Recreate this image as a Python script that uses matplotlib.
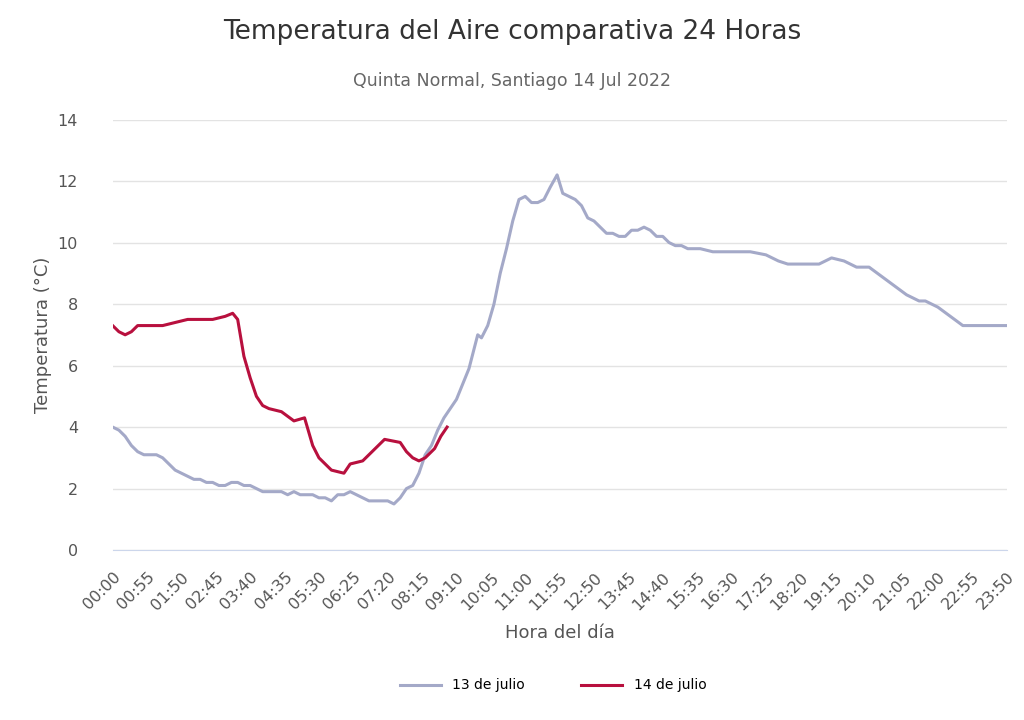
import matplotlib
matplotlib.use("Agg")
import matplotlib.pyplot as plt

def hm(s):
    h, m = s.split(":")
    return int(h) * 60 + int(m)

t13 = ["00:00","00:10","00:20","00:30","00:40","00:50","01:00","01:10","01:20","01:30","01:40","01:50",
       "02:00","02:10","02:20","02:30","02:40","02:50","03:00","03:10","03:20","03:30","03:40","03:50",
       "04:00","04:10","04:20","04:30","04:40","04:50","05:00","05:10","05:20","05:30","05:40","05:50",
       "06:00","06:10","06:20","06:30","06:40","06:50","07:00","07:10","07:20","07:30","07:40","07:50",
       "08:00","08:10","08:20","08:30","08:40","08:50","09:00","09:10","09:20","09:30","09:44","09:50",
       "10:00","10:10","10:20","10:30","10:40","10:50","11:00","11:10","11:20","11:30","11:40","11:51",
       "12:00","12:10","12:20","12:30","12:40","12:50","13:00","13:10","13:20","13:30","13:40","13:50",
       "14:00","14:10","14:20","14:30","14:40","14:50","15:00","15:10","15:20","15:40","16:00","16:30",
       "17:00","17:25","17:45","18:00","18:20","18:50","19:10","19:30","19:50","20:10","20:30","20:50",
       "21:10","21:30","21:40","22:00","22:20","22:40","23:00","23:20","23:50"]
v13 = [4.0,3.9,3.7,3.4,3.2,3.1,3.1,3.1,3.0,2.8,2.6,2.5,
       2.4,2.3,2.3,2.2,2.2,2.1,2.1,2.2,2.2,2.1,2.1,2.0,
       1.9,1.9,1.9,1.9,1.8,1.9,1.8,1.8,1.8,1.7,1.7,1.6,
       1.8,1.8,1.9,1.8,1.7,1.6,1.6,1.6,1.6,1.5,1.7,2.0,
       2.1,2.5,3.1,3.4,3.9,4.3,4.6,4.9,5.4,5.9,7.0,6.9,
       7.3,8.0,9.0,9.8,10.7,11.4,11.5,11.3,11.3,11.4,11.8,12.2,
       11.6,11.5,11.4,11.2,10.8,10.7,10.5,10.3,10.3,10.2,10.2,10.4,
       10.4,10.5,10.4,10.2,10.2,10.0,9.9,9.9,9.8,9.8,9.7,9.7,
       9.7,9.6,9.4,9.3,9.3,9.3,9.5,9.4,9.2,9.2,8.9,8.6,
       8.3,8.1,8.1,7.9,7.6,7.3,7.3,7.3,7.3]

t14 = ["00:00","00:10","00:20","00:30","00:40","01:00","01:20","01:40","02:00","02:20","02:40","03:00",
       "03:12","03:20","03:30","03:40","03:50","04:00","04:10","04:30","04:50","05:07","05:20","05:30",
       "05:40","05:50","06:10","06:20","06:40","07:00","07:15","07:40","07:50","08:00","08:10","08:20",
       "08:35","08:45","08:55"]
v14 = [7.3,7.1,7.0,7.1,7.3,7.3,7.3,7.4,7.5,7.5,7.5,7.6,
       7.7,7.5,6.3,5.6,5.0,4.7,4.6,4.5,4.2,4.3,3.4,3.0,
       2.8,2.6,2.5,2.8,2.9,3.3,3.6,3.5,3.2,3.0,2.9,3.0,
       3.3,3.7,4.0]

tick_labels = ["00:00","00:55","01:50","02:45","03:40","04:35","05:30","06:25","07:20","08:15","09:10",
               "10:05","11:00","11:55","12:50","13:45","14:40","15:35","16:30","17:25","18:20","19:15",
               "20:10","21:05","22:00","22:55","23:50"]
y_ticks = [0, 2, 4, 6, 8, 10, 12, 14]

fig = plt.figure(figsize=(10.24, 7.2), dpi=100)
ax = fig.add_axes([0.110, 0.236, 0.873, 0.598])
ax.plot([hm(s) for s in t13], v13, color="#a4a9c8", lw=2.2, label="13 de julio")
ax.plot([hm(s) for s in t14], v14, color="#b8103e", lw=2.2, label="14 de julio")
ax.set_xlim(0, hm("23:50"))
ax.set_ylim(0, 14)
ax.set_yticks(y_ticks)
ax.set_xticks([hm(s) for s in tick_labels])
ax.set_xticklabels(tick_labels, rotation=45, ha="right", rotation_mode="anchor", fontsize=11.5, color="#555555")
ax.tick_params(axis="x", length=0, pad=14)
ax.tick_params(axis="y", length=0, labelsize=11.5, labelcolor="#555555", pad=25)
ax.grid(axis="y", color="#e3e3e3", lw=1)
for s in ["top", "right", "left"]:
    ax.spines[s].set_visible(False)
ax.spines["bottom"].set_color("#ccd6eb")
ax.set_ylabel("Temperatura (°C)", fontsize=13, color="#555555")
ax.set_xlabel("Hora del día", fontsize=13, color="#555555", labelpad=8)
fig.text(0.5, 0.955, "Temperatura del Aire comparativa 24 Horas", ha="center", va="center", fontsize=19, color="#333333")
fig.text(0.5, 0.888, "Quinta Normal, Santiago 14 Jul 2022", ha="center", va="center", fontsize=12.5, color="#666666")
fig.legend(loc="center", bbox_to_anchor=(0.54, 0.048), ncol=2, frameon=False, fontsize=10,
           handlelength=3, columnspacing=4)
fig.savefig("out.png", dpi=100)
